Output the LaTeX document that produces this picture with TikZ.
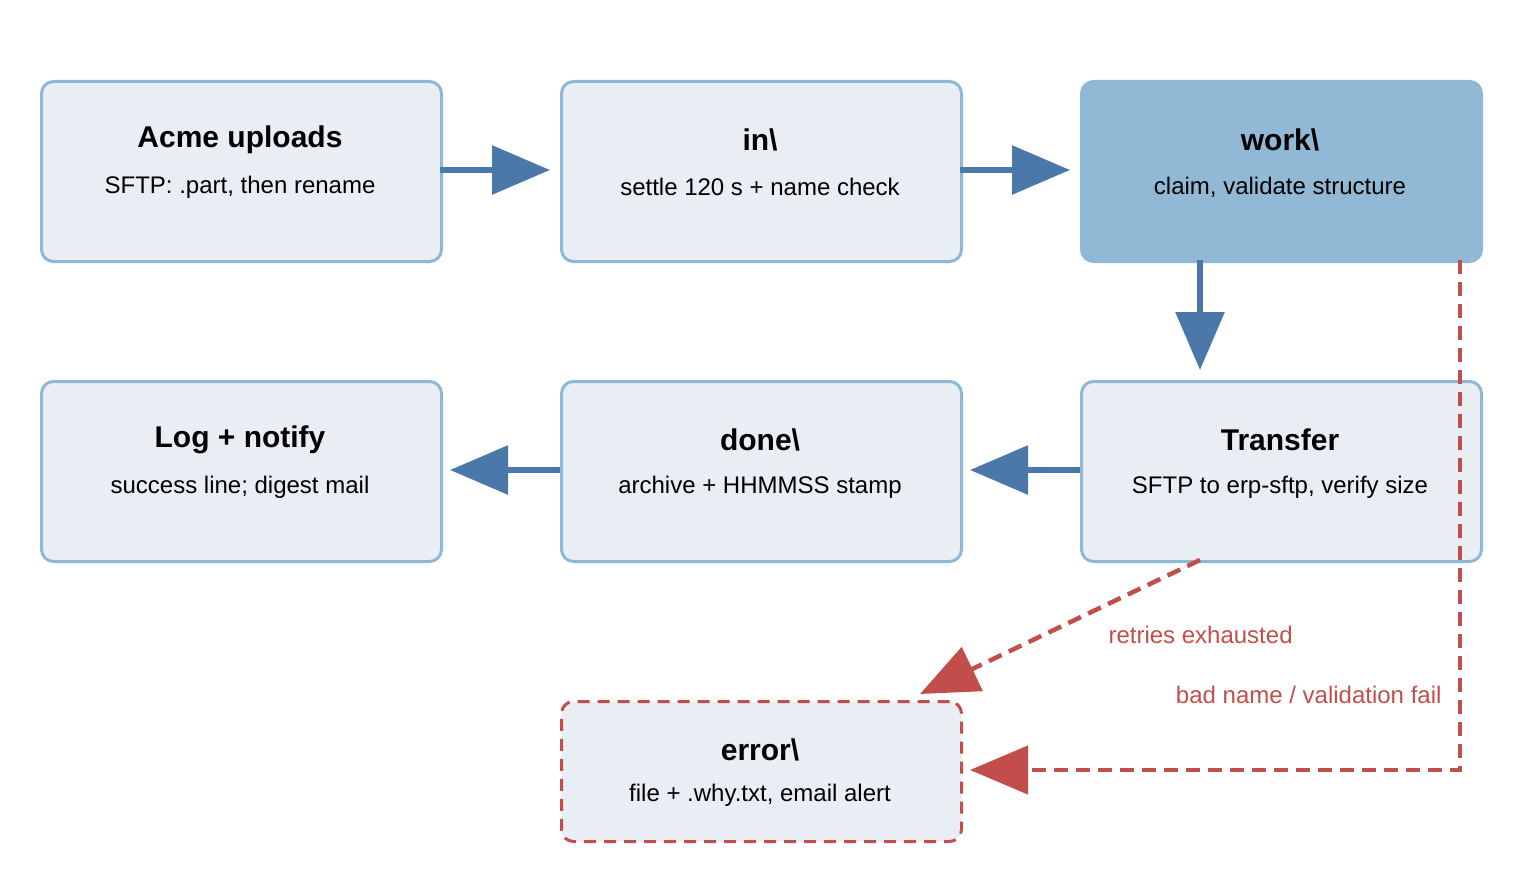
\documentclass[tikz,border=0pt]{standalone}
\usepackage{fontspec}
\setmainfont{Liberation Sans}
\usetikzlibrary{arrows.meta}
\definecolor{boxfill}{HTML}{E8EEF4}
\definecolor{boxline}{HTML}{8FB8D6}
\definecolor{hot}{HTML}{91B9D6}
\definecolor{flow}{HTML}{4A78A8}
\definecolor{err}{HTML}{C24E4C}
\begin{document}
\begin{tikzpicture}[x=1pt,y=-1pt,
  box/.style={draw=boxline,line width=3pt,fill=boxfill,rounded corners=12pt,minimum width=400pt,minimum height=180pt,anchor=north west,inner sep=0pt},
  ttl/.style={font=\fontsize{30}{34}\selectfont\bfseries},
  sub/.style={font=\fontsize{24}{28}\selectfont},
  fl/.style={draw=flow,line width=6pt,-{Triangle[length=58pt,width=48pt]},shorten >=-4pt},
  er/.style={draw=err,line width=4.5pt,dash pattern=on 14pt off 8pt,-{Triangle[length=58pt,width=48pt]}},
  lbl/.style={text=err,font=\fontsize{24}{28}\selectfont}]
\useasboundingbox (0,0) rectangle (1520,880);
\node[box] (a) at (40,80) {};
\node[box] (b) at (560,80) {};
\node[box,fill=hot] (c) at (1080,80) {};
\node[box] (d) at (40,380) {};
\node[box] (e) at (560,380) {};
\node[box] (f) at (1080,380) {};
\node[box,dashed,draw=err,dash pattern=on 12pt off 8pt,minimum height=140pt] (g) at (560,700) {};
\node[ttl] (at) at (240,140) {Acme uploads};
\node[sub] (as) at (240,187) {SFTP: .part, then rename};
\node[ttl] (bt) at (760,140) {in\textbackslash};
\node[sub] (bs) at (760,187) {settle 120 s + name check};
\node[ttl] (ct) at (1280,140) {work\textbackslash};
\node[sub] (cs) at (1280,187) {claim, validate structure};
\node[ttl] (dt) at (240,440) {Log + notify};
\node[sub] (ds) at (240,487) {success line; digest mail};
\node[ttl] (et) at (760,440) {done\textbackslash};
\node[sub] (es) at (760,487) {archive + HHMMSS stamp};
\node[ttl] (ft) at (1280,440) {Transfer};
\node[sub] (fs) at (1280,487) {SFTP to erp-sftp, verify size};
\node[ttl] (gt) at (760,750) {error\textbackslash};
\node[sub] (gs) at (760,795) {file + .why.txt, email alert};
\coordinate (c1) at (440,170); \coordinate (c2) at (550,170);
\coordinate (c3) at (960,170); \coordinate (c4) at (1070,170);
\coordinate (c5) at (1200,260); \coordinate (c6) at (1200,370);
\coordinate (c7) at (1080,470); \coordinate (c8) at (970,470);
\coordinate (c9) at (560,470); \coordinate (c10) at (450,470);
\draw[fl,shorten >=0pt] (c1) -- (c2);
\draw[fl,shorten >=0pt] (c3) -- (c4);
\draw[fl,shorten >=0pt] (c5) -- (c6);
\draw[fl,shorten >=0pt] (c7) -- (c8);
\draw[fl,shorten >=0pt] (c9) -- (c10);
\coordinate (r1) at (1200,560); \coordinate (r2) at (920,694);
\coordinate (s1) at (1460,260); \coordinate (s2) at (1460,770); \coordinate (s3) at (970,770);
\draw[er] (r1) -- (r2);
\draw[er] (s1) -- (s2) -- (s3);
\node[lbl,anchor=west] (l1) at (1105,635) {retries exhausted};
\node[lbl,anchor=east] (l2) at (1445,695) {bad name / validation fail};
\end{tikzpicture}
\end{document}
